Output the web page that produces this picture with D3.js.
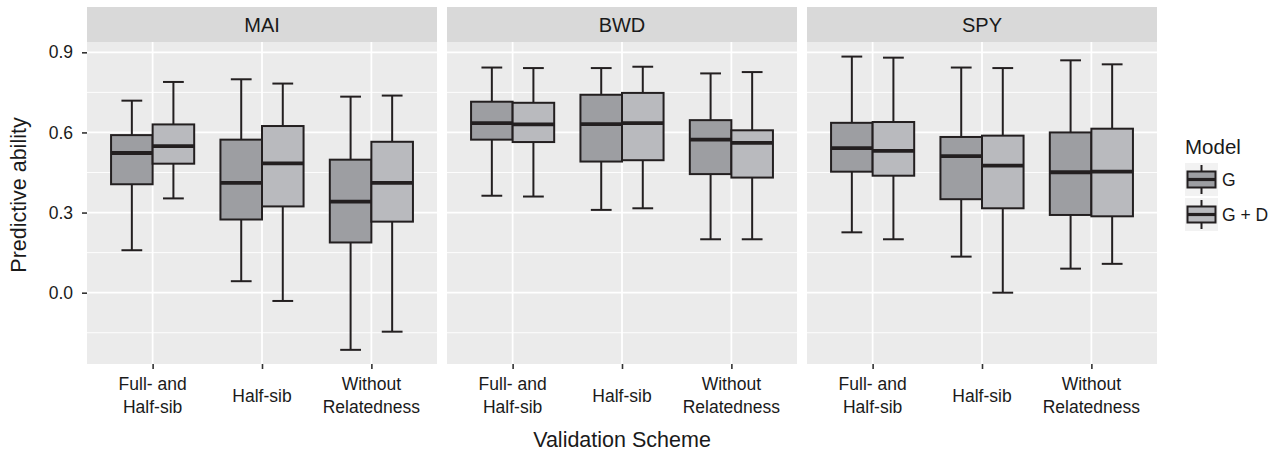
<!DOCTYPE html>
<html>
<head>
<meta charset="utf-8">
<script src="https://cdn.jsdelivr.net/npm/d3@7"></script>
<style>
  html, body { margin: 0; padding: 0; background: #ffffff; }
  svg { display: block; font-family: "Liberation Sans", Arial, Helvetica, sans-serif; }
</style>
</head>
<body>
<svg id="chart" width="1277" height="452"></svg>
<script>
// ---------- data ----------
const panels = ["MAI", "BWD", "SPY"];
const schemes = ["Full- and Half-sib", "Half-sib", "Without Relatedness"];
const schemeLabels = [["Full- and", "Half-sib"], ["Half-sib"], ["Without", "Relatedness"]];
const models = ["G", "G + D"];
const yTicks = [0.0, 0.3, 0.6, 0.9];
const yMinor = [-0.15, 0.15, 0.45, 0.75];

// each entry: [lower whisker, Q1, median, Q3, upper whisker], one per scheme
const maiG  = [[0.159, 0.406, 0.523, 0.590, 0.719], [0.043, 0.274, 0.411, 0.573, 0.799], [-0.214, 0.188, 0.341, 0.498, 0.734]];
const maiGD = [[0.353, 0.483, 0.549, 0.630, 0.789], [-0.031, 0.323, 0.484, 0.624, 0.783], [-0.146, 0.266, 0.411, 0.565, 0.738]];
const bwdG  = [[0.363, 0.573, 0.635, 0.715, 0.843], [0.310, 0.491, 0.631, 0.741, 0.841], [0.200, 0.444, 0.573, 0.646, 0.821]];
const bwdGD = [[0.360, 0.564, 0.630, 0.711, 0.841], [0.316, 0.496, 0.635, 0.748, 0.846], [0.200, 0.431, 0.561, 0.608, 0.826]];
const spyG  = [[0.226, 0.453, 0.541, 0.636, 0.884], [0.135, 0.350, 0.511, 0.583, 0.843], [0.090, 0.291, 0.451, 0.600, 0.870]];
const spyGD = [[0.200, 0.438, 0.531, 0.639, 0.880], [0.000, 0.316, 0.476, 0.588, 0.841], [0.108, 0.286, 0.453, 0.614, 0.855]];

const panelData = { MAI: [maiG, maiGD], BWD: [bwdG, bwdGD], SPY: [spyG, spyGD] };

// ---------- layout ----------
const fills = ["#9d9ea2", "#b9babe"];
const ink = "#231f20";
const panelW = 350, panelGap = 10, panelLeft = 87;
const stripTop = 7, stripH = 35;
const plotTop = stripTop + stripH, plotBottom = 364;
const lw = 2.0, medW = 3.8;

const svg = d3.select("#chart");

const y = d3.scaleLinear().domain([-0.267, 0.9386]).range([plotBottom, plotTop]);
const x = d3.scalePoint().domain(schemes).range([0, panelW]).padding(0.6);
const step = x.step();
const dodge = d3.scaleBand().domain(models).range([-0.38 * step, 0.38 * step]);
const bw = dodge.bandwidth();
const capW = bw * 0.5;

panels.forEach((p, pi) => {
  const g = svg.append("g").attr("transform", `translate(${panelLeft + pi * (panelW + panelGap)},0)`);

  // strip
  g.append("rect").attr("x", 0).attr("y", stripTop).attr("width", panelW).attr("height", stripH)
    .attr("fill", "#d9d9d9");
  g.append("text").attr("x", panelW / 2).attr("y", stripTop + stripH / 2).attr("dy", "0.36em")
    .attr("text-anchor", "middle").attr("font-size", 20).attr("fill", "#1a1a1a").text(p);

  // panel background
  g.append("rect").attr("x", 0).attr("y", plotTop).attr("width", panelW).attr("height", plotBottom - plotTop)
    .attr("fill", "#ebebeb");

  // minor grid
  g.selectAll(".minor").data(yMinor).enter().append("line")
    .attr("x1", 0).attr("x2", panelW).attr("y1", d => y(d)).attr("y2", d => y(d))
    .attr("stroke", "#ffffff").attr("stroke-width", 0.9);
  // major grid
  g.selectAll(".major").data(yTicks).enter().append("line")
    .attr("x1", 0).attr("x2", panelW).attr("y1", d => y(d)).attr("y2", d => y(d))
    .attr("stroke", "#ffffff").attr("stroke-width", 1.8);
  g.selectAll(".vmajor").data(schemes).enter().append("line")
    .attr("x1", d => x(d)).attr("x2", d => x(d)).attr("y1", plotTop).attr("y2", plotBottom)
    .attr("stroke", "#ffffff").attr("stroke-width", 1.8);

  // boxes
  panelData[p].forEach((series, mi) => {
    series.forEach((s, si) => {
      const cx = x(schemes[si]) + dodge(models[mi]) + bw / 2;
      const [lo, q1, med, q3, hi] = s;
      const bg = g.append("g");
      bg.append("line").attr("x1", cx).attr("x2", cx).attr("y1", y(hi)).attr("y2", y(q3))
        .attr("stroke", ink).attr("stroke-width", lw);
      bg.append("line").attr("x1", cx).attr("x2", cx).attr("y1", y(q1)).attr("y2", y(lo))
        .attr("stroke", ink).attr("stroke-width", lw);
      bg.append("line").attr("x1", cx - capW / 2).attr("x2", cx + capW / 2).attr("y1", y(hi)).attr("y2", y(hi))
        .attr("stroke", ink).attr("stroke-width", lw);
      bg.append("line").attr("x1", cx - capW / 2).attr("x2", cx + capW / 2).attr("y1", y(lo)).attr("y2", y(lo))
        .attr("stroke", ink).attr("stroke-width", lw);
      bg.append("rect").attr("x", cx - bw / 2).attr("y", y(q3)).attr("width", bw).attr("height", y(q1) - y(q3))
        .attr("fill", fills[mi]).attr("stroke", ink).attr("stroke-width", lw);
      bg.append("line").attr("x1", cx - bw / 2).attr("x2", cx + bw / 2).attr("y1", y(med)).attr("y2", y(med))
        .attr("stroke", ink).attr("stroke-width", medW);
    });
  });

  // x axis
  const xa = g.append("g").attr("transform", `translate(0,${plotBottom})`)
    .call(d3.axisBottom(x).tickSize(5).tickFormat(""));
  xa.select(".domain").remove();
  xa.selectAll(".tick line").attr("stroke", "#333333").attr("stroke-width", 1.6);
  schemes.forEach((s, si) => {
    const lines = schemeLabels[si];
    const t = g.append("text").attr("text-anchor", "middle").attr("font-size", 17.5).attr("fill", "#1a1a1a");
    const base = lines.length === 1 ? 402 : 390;
    lines.forEach((ln, li) => {
      t.append("tspan").attr("x", x(s)).attr("y", base + li * 23).text(ln);
    });
  });

  // y axis on first panel
  if (pi === 0) {
    const ya = g.append("g").call(d3.axisLeft(y).tickValues(yTicks).tickFormat(d3.format(".1f")).tickSize(5).tickPadding(9));
    ya.select(".domain").remove();
    ya.selectAll(".tick line").attr("stroke", "#333333").attr("stroke-width", 1.6);
    ya.selectAll(".tick text").attr("font-size", 17.5).attr("fill", "#1a1a1a")
      .attr("font-family", "'Liberation Sans', Arial, sans-serif");
  }
});

// axis titles
svg.append("text").attr("x", panelLeft + (3 * panelW + 2 * panelGap) / 2).attr("y", 446.5)
  .attr("text-anchor", "middle").attr("font-size", 21.5).attr("fill", "#1a1a1a").text("Validation Scheme");
svg.append("text").attr("transform", "translate(26,195) rotate(-90)")
  .attr("text-anchor", "middle").attr("font-size", 21.5).attr("fill", "#1a1a1a").text("Predictive ability");

// legend
const lg = svg.append("g").attr("transform", "translate(1185,0)");
lg.append("text").attr("x", 0).attr("y", 153.5).attr("font-size", 20.5).attr("fill", "#1a1a1a").text("Model");
models.forEach((m, mi) => {
  const top = 163 + mi * 35, keyS = 33, cx = keyS / 2, cy = top + keyS / 2;
  const k = lg.append("g");
  k.append("rect").attr("x", 0).attr("y", top).attr("width", keyS).attr("height", keyS).attr("fill", "#f2f2f2");
  k.append("line").attr("x1", cx).attr("x2", cx).attr("y1", top + 2).attr("y2", top + keyS - 2)
    .attr("stroke", ink).attr("stroke-width", lw);
  k.append("rect").attr("x", 2.5).attr("y", cy - 8).attr("width", keyS - 5).attr("height", 16)
    .attr("fill", fills[mi]).attr("stroke", ink).attr("stroke-width", lw);
  k.append("line").attr("x1", 2.5).attr("x2", keyS - 2.5).attr("y1", cy).attr("y2", cy)
    .attr("stroke", ink).attr("stroke-width", 3.2);
  lg.append("text").attr("x", 37).attr("y", cy).attr("dy", "0.36em").attr("font-size", 17.5)
    .attr("fill", "#1a1a1a").text(m);
});
</script>
</body>
</html>
